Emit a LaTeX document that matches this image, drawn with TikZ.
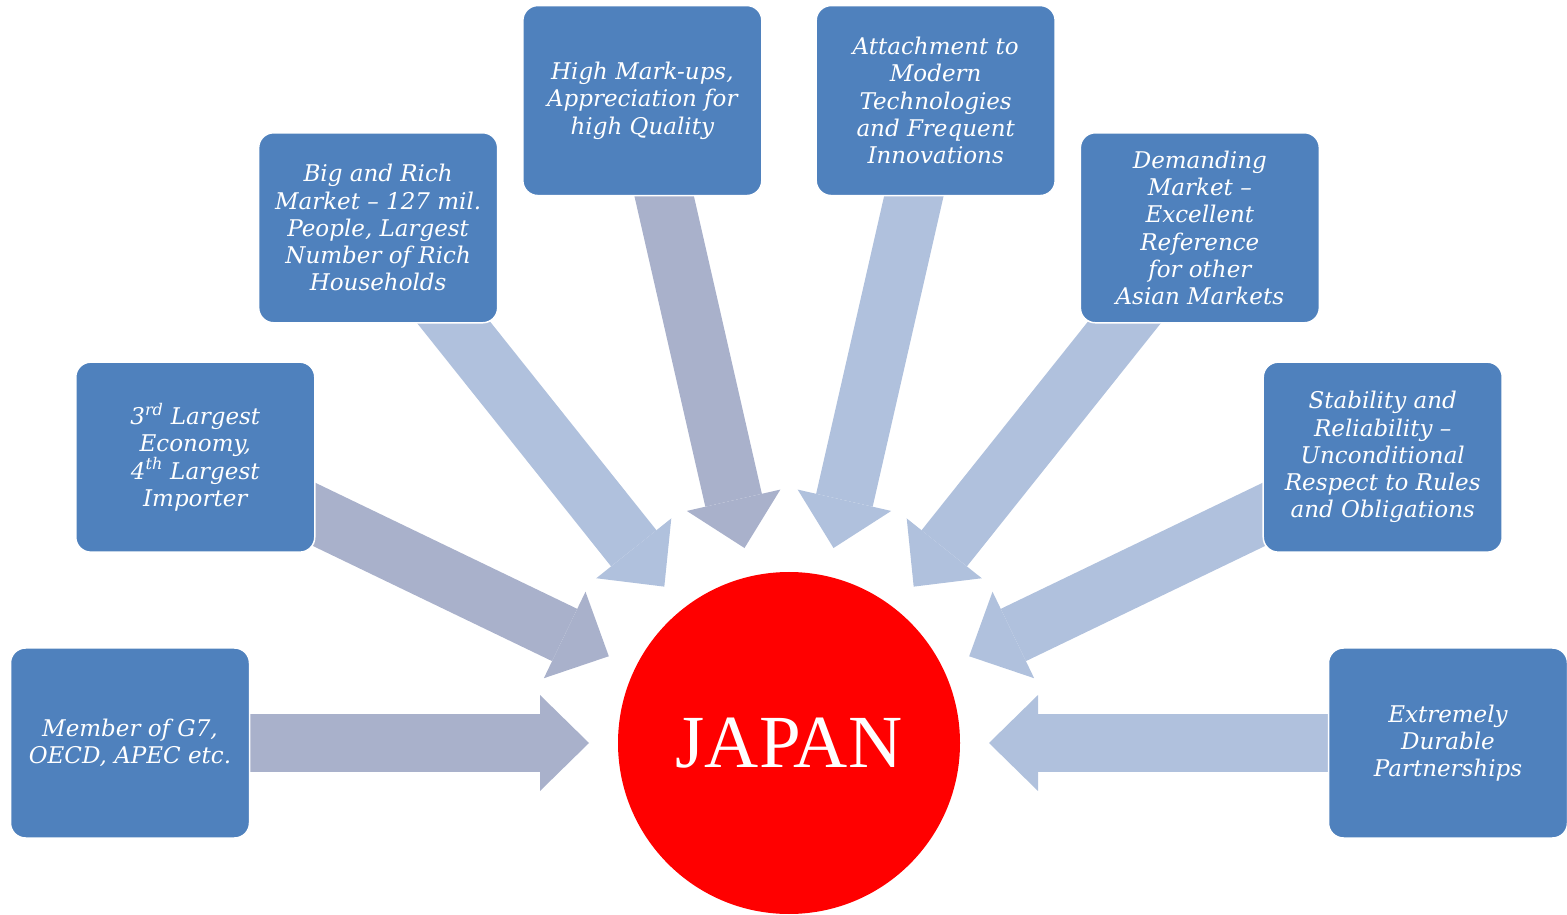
\documentclass[tikz,border=0pt]{standalone}
\usepackage{fontspec}
\setmainfont{DejaVu Serif}
\newfontfamily\sunfont{Liberation Serif}
\usetikzlibrary{
positioning,%
calc,%
arrows.meta,%
backgrounds
}
\definecolor{boxblue}{HTML}{4F81BD}
\definecolor{arrdark}{HTML}{A9B1CB}
\definecolor{arrlight}{HTML}{B0C1DD}
\definecolor{jpred}{HTML}{FF0000}
\tikzset{
    card/.style={draw=white, line width=1.5pt, fill=boxblue, rounded corners=15pt,
        minimum width=239pt, minimum height=190pt, inner sep=0pt, align=center,
        text=white, font=\fontsize{23}{27.3}\selectfont\itshape},
    sun/.style={circle, fill=jpred, minimum size=342pt, inner sep=0pt, outer sep=0pt,
        text=white, font=\sunfont\fontsize{75}{80}\selectfont},
    push/.style={line width=58pt, -{Triangle[width=96pt, length=49pt, line width=0pt]}, shorten >=29pt},
    pushdark/.style={push, arrdark},
    pushlight/.style={push, arrlight}
}

\begin{document}
\begin{tikzpicture}[x=1pt, y=1pt]
            \useasboundingbox (0,0) rectangle (1567,914);
            \node[sun] (jp) at (789,171) {JAPAN};
            \node[card] (g7) at ($(jp)+(180:659)$) {Member of G7,\\OECD, APEC etc.};
            \node[card] (econ) at ($(jp)+(154.29:659)$) {3\textsuperscript{rd} Largest\\Economy,\\4\textsuperscript{th} Largest\\Importer};
            \node[card] (market) at ($(jp)+(128.57:659)$) {Big and Rich\\Market -- 127 mil.\\People, Largest\\Number of Rich\\Households};
            \node[card] (markup) at ($(jp)+(102.86:659)$) {High Mark-ups,\\Appreciation for\\high Quality};
            \node[card] (tech) at ($(jp)+(77.14:659)$) {Attachment to\\Modern\\Technologies\\and Frequent\\Innovations};
            \node[card] (demand) at ($(jp)+(51.43:659)$) {Demanding\\Market --\\Excellent\\Reference\\for other\\Asian Markets};
            \node[card] (stable) at ($(jp)+(25.71:659)$) {Stability and\\Reliability --\\Unconditional\\Respect to Rules\\and Obligations};
            \node[card] (partner) at ($(jp)+(0:659)$) {Extremely\\Durable\\Partnerships};
            \begin{scope}[on background layer]
                \draw[pushdark] (g7.center) -- (jp);
                \draw[pushdark] (econ.center) -- (jp);
                \draw[pushlight] (market.center) -- (jp);
                \draw[pushdark] (markup.center) -- (jp);
                \draw[pushlight] (tech.center) -- (jp);
                \draw[pushlight] (demand.center) -- (jp);
                \draw[pushlight] (stable.center) -- (jp);
                \draw[pushlight] (partner.center) -- (jp);
            \end{scope}
        \end{tikzpicture}
\end{document}
